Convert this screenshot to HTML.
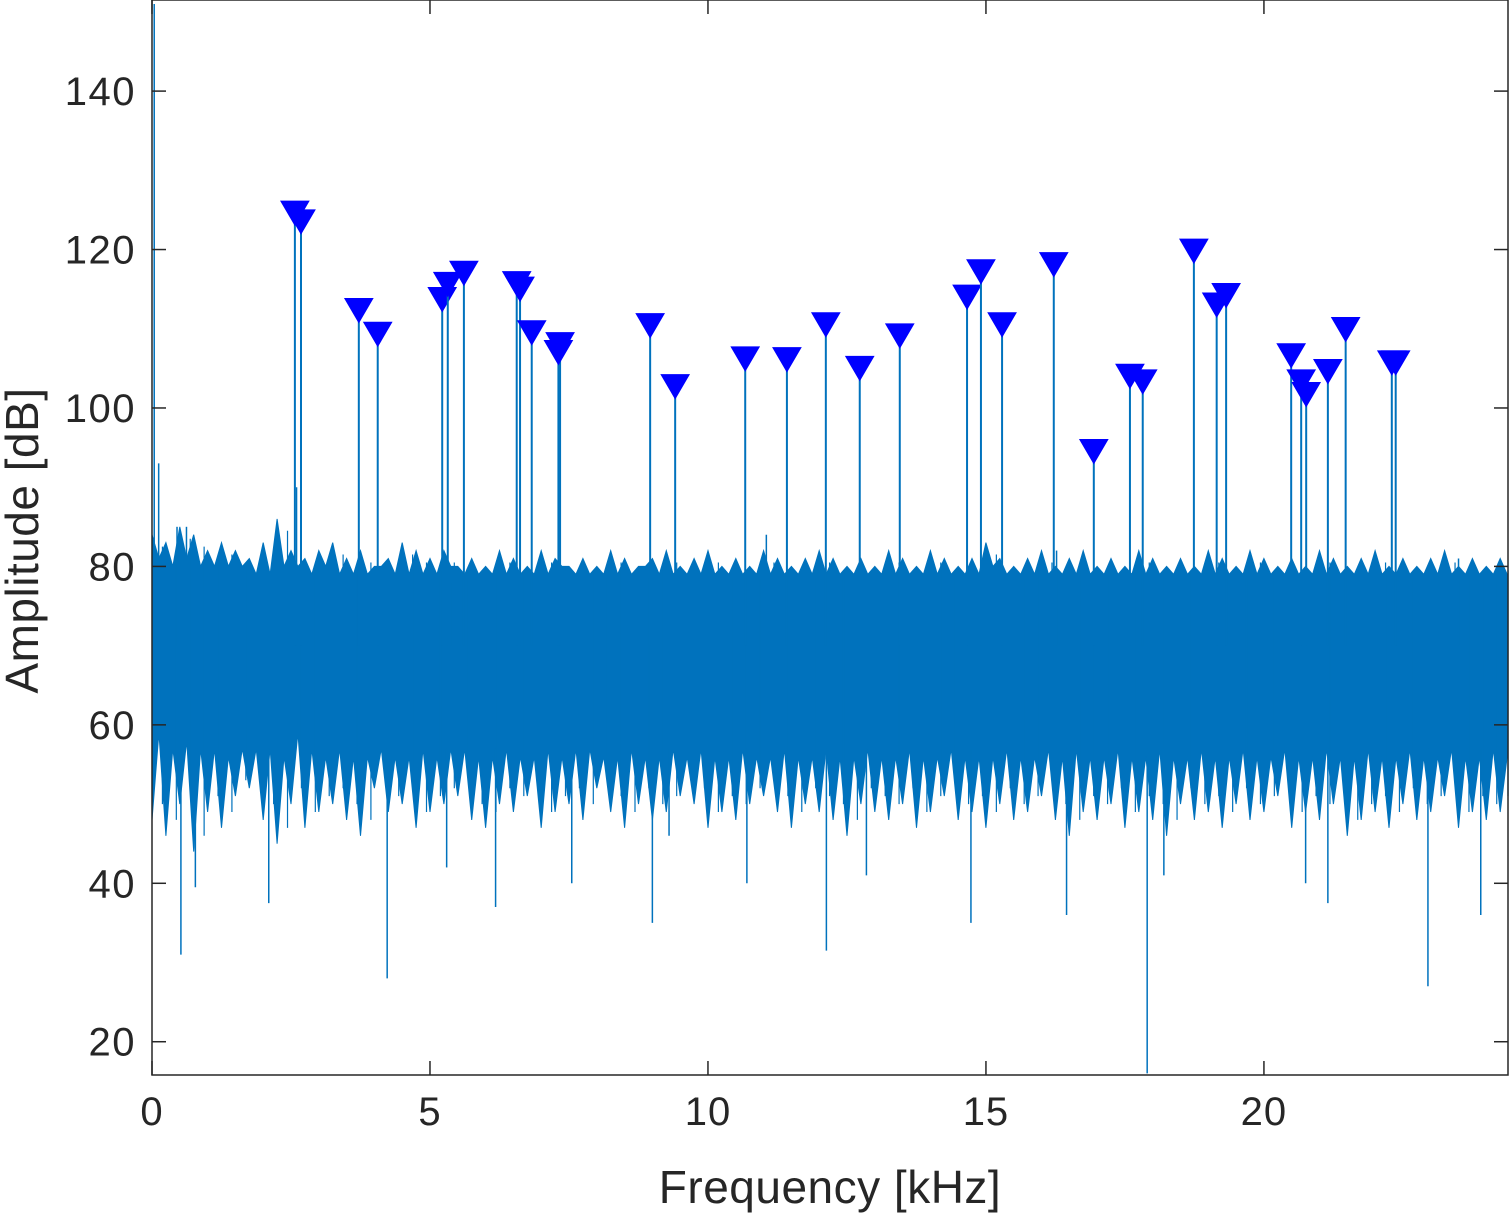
<!DOCTYPE html>
<html><head><meta charset="utf-8"><style>
html,body{margin:0;padding:0;background:#fff;width:1511px;height:1216px;overflow:hidden}
svg text{font-family:"Liberation Sans","DejaVu Sans",sans-serif;fill:#262626}
</style></head><body>
<svg id="chart" width="1511" height="1216">
<g id="plot"></g>
<g id="axes"></g>
</svg>
<script>
// ---- data ----
const xTicks=[0,5,10,15,20];
const yTicks=[20,40,60,80,100,120,140];
const peakFreq=[2.57,2.68,3.72,4.06,5.22,5.32,5.61,6.56,6.62,6.83,7.34,7.31,8.96,9.41,10.67,11.42,12.12,12.73,13.45,14.66,14.91,15.29,16.22,16.94,17.59,17.82,18.74,19.15,19.32,20.49,20.67,20.76,21.15,21.47,22.3,22.37];
const peakDb=[124.6,123.5,112.3,109.3,113.7,115.6,117,115.7,115,109.5,108,107,110.4,102.7,106.2,106.1,110.5,105,109.1,114,117.2,110.5,118.1,94.5,104,103.3,119.8,113,114.2,106.6,103.3,101.7,104.6,109.9,105.7,105.7];
const noiseTop=[84,83,85,84,82,83,82,81,83,86,82,81,82,83,81,82,80,81,83,82,81,82,80,81,80,82,81,80,82,81,80,81,80,82,81,80,81,82,80,81,82,80,81,80,82,81,80,81,82,81,80,81,80,82,81,80,82,81,80,81,83,81,80,81,82,80,81,82,80,81,80,82,81,80,81,80,82,81,80,82,81,80,81,80,82,81,80,81,82,80,81,80,81,82,80,81,80,81];
const noiseBot=[48,46,50,44,49,47,51,52,48,45,50,47,49,50,48,46,52,49,50,47,49,50,51,48,47,50,49,51,47,49,50,48,52,49,47,50,48,49,51,50,47,49,48,50,51,49,47,50,49,48,46,50,49,48,50,47,49,51,48,49,47,50,48,49,51,48,46,49,48,50,47,49,48,46,50,48,49,47,50,48,49,51,47,49,48,50,46,48,49,47,50,48,49,51,47,49,48,49];
const coreTop=[81,80,81,80,80,80,80,79,79,80,80,79,80,79,79,79,80,79,79,79,79,80,79,79,79,79,79,79,79,80,79,79,79,79,79,80,79,79,79,79,79,79,79,79,79,79,79,79,79,79,79,79,79,79,79,79,79,79,79,79,80,79,79,79,79,79,79,79,79,79,79,79,79,79,79,79,79,79,79,79,79,79,79,79,79,79,79,79,79,79,79,79,79,79,79,79,79,79];
const coreBot=[59,57,58,57,57,56,57,57,57,56,59,57,56,57,56,56,57,56,56,57,56,57,57,56,56,57,56,56,57,56,57,57,56,56,57,56,56,57,56,57,56,56,57,56,56,57,56,56,57,56,56,57,56,56,57,56,56,57,56,56,56,57,56,56,57,56,57,56,56,57,56,56,57,56,56,57,56,56,57,56,56,57,56,56,57,56,56,57,56,56,57,56,56,57,56,56,57,56];
const dipFreq=[0.52,0.78,2.1,4.23,5.3,6.18,7.55,9.0,9.3,10.7,12.13,12.85,14.73,16.45,17.9,18.2,20.75,21.15,22.95,23.9];
const dipDb=[31,39.5,37.5,28,42,37,40,35,46,40,31.5,41,35,36,16,41,40,37.5,27,36];
const upFreq=[0.04,0.12,0.45,0.62,2.6,5.38,11.05,16.27,23.5];
const upDb=[151,93,85,85,90,78,84,82,81];
// ---- axes ----
const X0=152,X1=1508,Y0=0,Y1=1075;
const xmin=0,xmax=24.39,ymin=15.8,ymax=151.5;
const sx=v=>X0+(v-xmin)/(xmax-xmin)*(X1-X0);
const sy=v=>Y1-(v-ymin)/(ymax-ymin)*(Y1-Y0);
const NS="http://www.w3.org/2000/svg";
function mk(tag,attrs,parent){const e=document.createElementNS(NS,tag);for(const k in attrs)e.setAttribute(k,attrs[k]);parent.appendChild(e);return e;}
const plot=document.getElementById('plot'),axes=document.getElementById('axes');
const blue="#0072BD";
let d="";
const step=0.25;
for(let i=0;i<noiseTop.length;i++){const f=Math.min(i*step,xmax);const f2=Math.min(f+step/2,xmax);
 d+=(i?"L":"M")+sx(f).toFixed(1)+","+sy(noiseTop[i]).toFixed(1)+"L"+sx(f2).toFixed(1)+","+sy(coreTop[i]).toFixed(1);}
for(let i=noiseBot.length-1;i>=0;i--){const f=Math.min(i*step,xmax);const f2=Math.min(f+step/2,xmax);
 d+="L"+sx(f2).toFixed(1)+","+sy(coreBot[i]).toFixed(1)+"L"+sx(f).toFixed(1)+","+sy(noiseBot[i]).toFixed(1);}
d+="Z";
const env=mk('path',{d:d,fill:blue,stroke:blue,'stroke-width':1},plot);


for(let i=0;i<noiseTop.length;i++){
 const f=Math.min(i*step+step*0.75,xmax);
 const l=mk('line',{x1:sx(f),x2:sx(f),y1:sy(noiseTop[i]-1.5),y2:sy(noiseBot[i]+2),stroke:blue,'stroke-width':1.2},plot);
 
 
}
dipFreq.forEach((f,i)=>{const l=mk('line',{x1:sx(f),x2:sx(f),y1:sy(57),y2:sy(dipDb[i]),stroke:blue,'stroke-width':1.5},plot);
 
 });
upFreq.forEach((f,i)=>{const l=mk('line',{x1:sx(f),x2:sx(f),y1:sy(70),y2:sy(upDb[i]),stroke:blue,'stroke-width':1.5},plot);
 
 });
peakFreq.forEach((f,i)=>{
 const l=mk('line',{x1:sx(f),x2:sx(f),y1:sy(70),y2:sy(peakDb[i]),stroke:blue,'stroke-width':2},plot);
 
 
 const cx=sx(f),cy=sy(peakDb[i]);
 const t=mk('polygon',{points:`${cx-14},${cy-12} ${cx+14},${cy-12} ${cx},${cy+12}`,fill:'#0000FF',stroke:'#0000FF','stroke-width':1},plot);
 
 
});
const box=mk('rect',{x:X0,y:Y0,width:X1-X0,height:Y1-Y0,fill:'none',stroke:'#262626','stroke-width':1.5},axes);


xTicks.forEach(v=>{const x=sx(v);
 mk('line',{x1:x,x2:x,y1:Y1,y2:Y1-14,stroke:'#262626','stroke-width':1.5},axes);
 mk('line',{x1:x,x2:x,y1:Y0,y2:Y0+14,stroke:'#262626','stroke-width':1.5},axes);
 const t=mk('text',{x:x,y:Y1+50,'text-anchor':'middle','font-size':40,'letter-spacing':1},axes);t.textContent=v;
 
 });
yTicks.forEach(v=>{const y=sy(v);
 mk('line',{x1:X0,x2:X0+14,y1:y,y2:y,stroke:'#262626','stroke-width':1.5},axes);
 mk('line',{x1:X1,x2:X1-14,y1:y,y2:y,stroke:'#262626','stroke-width':1.5},axes);
 const t=mk('text',{x:X0-16,y:y+14,'text-anchor':'end','font-size':40,'letter-spacing':1.5},axes);t.textContent=v;
 
 });
const xl=mk('text',{x:(X0+X1)/2,y:1203,'text-anchor':'middle','font-size':46,'letter-spacing':0.5},axes);xl.textContent="Frequency [kHz]";


const yl=mk('text',{x:0,y:0,'text-anchor':'middle','font-size':46,'letter-spacing':0.5,transform:`translate(38,${(Y0+Y1)/2+3}) rotate(-90)`},axes);yl.textContent="Amplitude [dB]";


</script>
</body></html>
